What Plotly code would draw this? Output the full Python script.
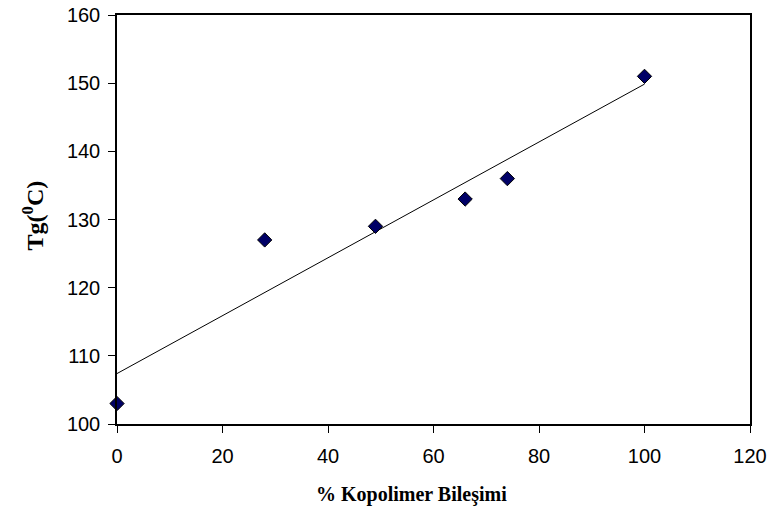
import numpy as np
import plotly.graph_objects as go

x_vals = [0, 28, 49, 66, 74, 100]
y_vals = [103, 127, 129, 133, 136, 151]
x_ticks = [0, 20, 40, 60, 80, 100, 120]
y_ticks = [100, 110, 120, 130, 140, 150, 160]
x_title = "% Kopolimer Bileşimi"
y_title = "Tg(<sup>0</sup>C)"

slope, intercept = np.polyfit(x_vals, y_vals, 1)
trend_x = [min(x_vals), max(x_vals)]
trend_y = [intercept + slope * v for v in trend_x]

fig = go.Figure()
fig.add_trace(go.Scatter(x=trend_x, y=trend_y, mode="lines",
                         line=dict(color="#000000", width=1), showlegend=False))
fig.add_trace(go.Scatter(x=x_vals, y=y_vals, mode="markers",
                         marker=dict(symbol="diamond", size=11, color="#000066",
                                     line=dict(color="#000000", width=1)),
                         showlegend=False, cliponaxis=False))

axis_font = dict(family="Arial, Liberation Sans, sans-serif", size=20, color="#000000")
serif = "Times New Roman, Liberation Serif, serif"

fig.update_layout(
    width=767, height=512, autosize=False,
    margin=dict(l=117, r=17, t=15, b=88, autoexpand=False),
    paper_bgcolor="white", plot_bgcolor="white",
    xaxis=dict(range=[0, 120], tickvals=x_ticks, ticks="outside", ticklen=7,
               tickcolor="#000000", showline=True, linecolor="#000000", linewidth=1.5,
               mirror=True, showgrid=False, zeroline=False, tickfont=axis_font,
               automargin=False, ticklabelstandoff=6),
    yaxis=dict(range=[100, 160], tickvals=y_ticks, ticks="outside", ticklen=7,
               tickcolor="#000000", showline=True, linecolor="#000000", linewidth=1.5,
               mirror=True, showgrid=False, zeroline=False, tickfont=axis_font,
               automargin=False, ticklabelstandoff=4),
    annotations=[
        dict(text="<b>" + x_title + "</b>", xref="paper", yref="paper", x=0.5, y=0,
             xanchor="center", yanchor="middle", xshift=-22, yshift=-70,
             showarrow=False, font=dict(family=serif, size=20, color="#000000")),
        dict(text="<b>" + y_title + "</b>", xref="paper", yref="paper", x=0, y=0.5,
             xanchor="center", yanchor="middle", xshift=-85, yshift=4, textangle=-90,
             showarrow=False, font=dict(family=serif, size=24, color="#000000")),
    ],
)

fig.write_html("out.html")
